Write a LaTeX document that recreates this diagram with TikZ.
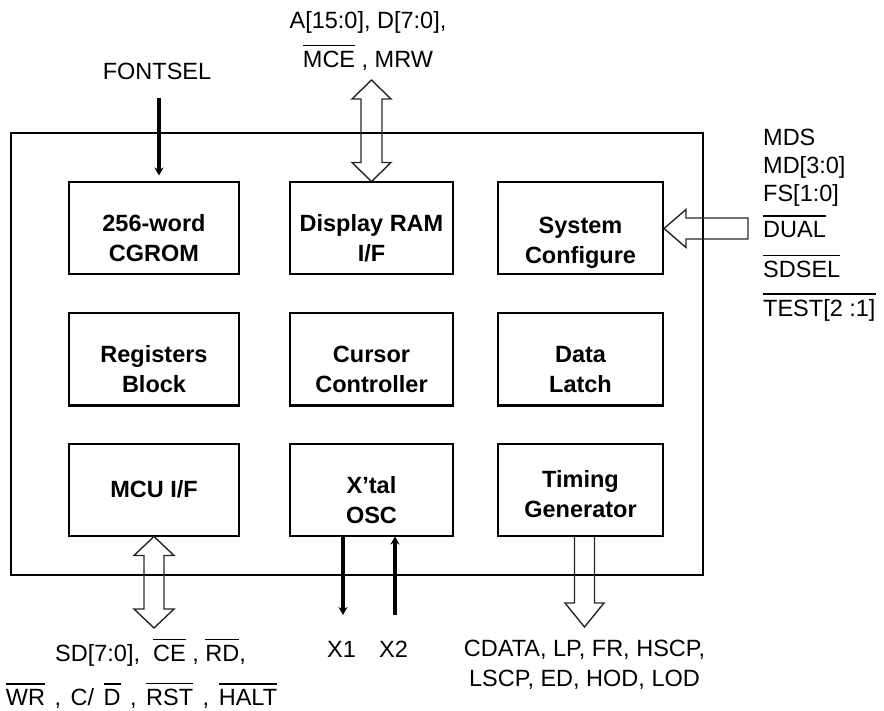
\documentclass[tikz,border=0pt]{standalone}
\usepackage{fontspec}
\setmainfont{Liberation Sans}
\usetikzlibrary{calc,arrows.meta}
\newcommand\ovl[1]{\vbox{\hrule height 1.2pt\kern4.8pt\hbox{#1}}}
\newcommand\lift[1]{\rule{0pt}{\dimexpr17pt+#1\relax}}
\newcommand\lblfont{\fontsize{23.5}{28}\selectfont\lineskiplimit=-50pt\relax}
\newcommand\lblfontb{\fontsize{23.5}{30}\selectfont\lineskiplimit=-50pt\relax}
\newcommand\blkfont{\fontsize{23.5}{30}\selectfont\bfseries}
\begin{document}
\begin{tikzpicture}[x=1pt,y=-1pt,
  lbl/.style={font=\lblfont, inner sep=0pt},
  blk/.style={draw, line width=2pt, minimum width=#1, minimum height=92pt, inner sep=0pt,
              align=center, font=\blkfont},
  blk/.default=165pt,
  thk/.style={line width=4.5pt, -{Stealth[length=8pt,width=9pt]}},
  hol/.style={line width=1.4pt, draw=black!85, line join=miter}]
\useasboundingbox (0,0) rectangle (884,711);

% outer chip
\node[draw, line width=2pt, minimum width=692pt, minimum height=442pt, inner sep=0pt] (chip) at (357,354) {};

% blocks
\node[blk=170pt] (rom) at (154,228.5)   {\lift{20pt}256-word\\CGROM};
\node[blk=163pt] (ram) at (371.5,228.5) {\lift{20pt}Display RAM\\I/F};
\node[blk=165pt] (sys) at (580.5,228.5) {\lift{27pt}System\\Configure};
\node[blk=170pt] (reg) at (154,359.5)   {\lift{20pt}Registers\\Block};
\node[blk=163pt] (cur) at (371.5,359.5) {\lift{20pt}Cursor\\Controller};
\node[blk=165pt] (lat) at (580.5,359.5) {\lift{20pt}Data\\Latch};
\node[blk=170pt] (mcu) at (154,489.5)   {MCU I/F};
\node[blk=163pt] (osc) at (371.5,489.5) {\lift{22pt}X'tal\\OSC};
\node[blk=165pt] (tim) at (580.5,489.5) {\lift{9pt}Timing\\Generator};

% external points
\coordinate (fs) at (159,98);
\coordinate (ramext) at (371.5,80);
\coordinate (sysext) at (748,228.5);
\coordinate (mcuext) at (154,628);
\coordinate (x1end) at (343,615);
\coordinate (x2start) at (395,615);
\coordinate (timext) at (584.5,627);

% labels
\node[lbl, anchor=base] (fontsel) at (157,80) {FONTSEL};
\node[lbl, anchor=north, align=center] (ramlbl) at (368,11)
  {A[15:0], D[7:0],\\[11pt]\ovl{MCE} , MRW};
\node[lbl, anchor=north west, align=left] (syslbl) at (763,128.4)
  {MDS\\MD[3:0]\\FS[1:0]\\[8.5pt]\ovl{DUAL}\\[12pt]\ovl{SDSEL}\\[11pt]\ovl{TEST[2 :1]}};
\node[lbl, anchor=north, align=center] (mculbl) at (141.5,638.5)
  {\hspace*{18pt}SD[7:0],\ \ \ovl{CE} , \ovl{RD},\\[16.5pt]\ovl{WR}\hspace{3pt} ,\hspace{3pt} C/\hspace{3pt} \ovl{D}\hspace{3pt} ,\hspace{3pt} \ovl{RST}\hspace{3pt} ,\hspace{3pt} \ovl{HALT}};
\node[lbl, anchor=base] (x1lbl) at (341.5,657) {X1};
\node[lbl, anchor=base] (x2lbl) at (393.5,657) {X2};
\node[lbl, anchor=north, align=center, font=\lblfontb] (timlbl) at (584.5,639.5)
  {CDATA, LP, FR, HSCP,\\LSCP, ED, HOD, LOD};

% thick signal arrows
\draw[thk] (fs) -- ([yshift=6pt]fs |- rom.north);
\draw[thk] (x1end |- osc.south) -- (x1end);
\draw[thk] (x2start) -- (x2start |- osc.south);

% hollow bus arrows
% display RAM (double, vertical)
\draw[hol] (ramext) -- ++(19.5,19) -- ++(-9,0) -- ($(ram.north)+(10.5,-19)$) -- ++(9,0)
  -- (ram.north) -- ++(-19.5,-19) -- ++(9,0) -- ($(ramext)+(-10.5,19)$) -- ++(-9,0) -- cycle;
% MCU (double, vertical)
\draw[hol] (mcu.south) -- ++(20,19) -- ++(-10,0) -- ($(mcuext)+(10,-19)$) -- ++(10,0)
  -- (mcuext) -- ++(-20,-19) -- ++(10,0) -- ($(mcu.south)+(-10,19)$) -- ++(-10,0) -- cycle;
% system configure (single, leftwards)
\draw[hol] (sys.east) -- ++(22,-19) -- ++(0,8.5) -- ($(sysext)+(0,-10.5)$) -- ++(0,21)
  -- ($(sys.east)+(22,10.5)$) -- ++(0,8.5) -- cycle;
% timing generator (single, downwards)
\draw[hol] ($(timext |- tim.south)+(-10,0)$) -- ($(timext)+(-10,-24)$) -- ++(-9.5,0)
  -- (timext) -- ++(19.5,-24) -- ++(-9.5,0) -- ($(timext |- tim.south)+(10,0)$);
\end{tikzpicture}
\end{document}
